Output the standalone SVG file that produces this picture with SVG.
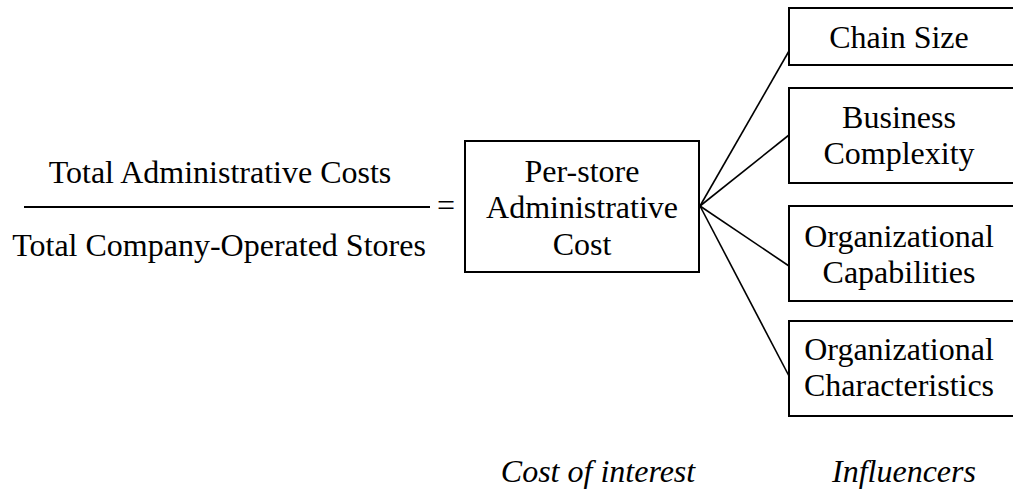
<svg xmlns="http://www.w3.org/2000/svg" width="1013" height="490" viewBox="0 0 1013 490" font-family="Liberation Serif, Times New Roman, Times, serif">
<style>
text{font-family:'Liberation Serif','Times New Roman',Times,serif;font-size:32px;fill:#000;text-anchor:middle}
.it{font-style:italic}
.box{fill:#fff;stroke:#000;stroke-width:2}
.conn line{stroke:#000;stroke-width:1.6}
</style>
<rect width="1013" height="490" fill="#fff"/>
<g id="fraction">
<text x="220" y="183">Total Administrative Costs</text>
<line x1="24" y1="207" x2="430" y2="207" stroke="#000" stroke-width="2"/>
<text x="219" y="256">Total Company-Operated Stores</text>
<text x="446" y="216">=</text>
</g>
<g class="conn" id="connectors">
<line x1="700" y1="206" x2="789" y2="51"/>
<line x1="700" y1="206" x2="789" y2="135"/>
<line x1="700" y1="206" x2="789" y2="266"/>
<line x1="700" y1="206" x2="789" y2="376"/>
</g>
<g id="cost">
<rect class="box" x="465" y="141" width="234" height="131"/>
<text x="582" y="182">Per-store</text>
<text x="582" y="218">Administrative</text>
<text x="582" y="255">Cost</text>
</g>
<g id="chain">
<rect class="box" x="789" y="8" width="230" height="57"/>
<text x="899" y="48">Chain Size</text>
</g>
<g id="business">
<rect class="box" x="789" y="88" width="230" height="95"/>
<text x="899" y="128">Business</text>
<text x="899" y="164">Complexity</text>
</g>
<g id="capabilities">
<rect class="box" x="789" y="206" width="230" height="95"/>
<text x="899" y="247">Organizational</text>
<text x="899" y="283">Capabilities</text>
</g>
<g id="characteristics">
<rect class="box" x="789" y="321" width="230" height="95"/>
<text x="899" y="360">Organizational</text>
<text x="899" y="396">Characteristics</text>
</g>
<g id="labels">
<text class="it" x="598" y="482">Cost of interest</text>
<text class="it" x="904" y="482">Influencers</text>
</g>
</svg>
